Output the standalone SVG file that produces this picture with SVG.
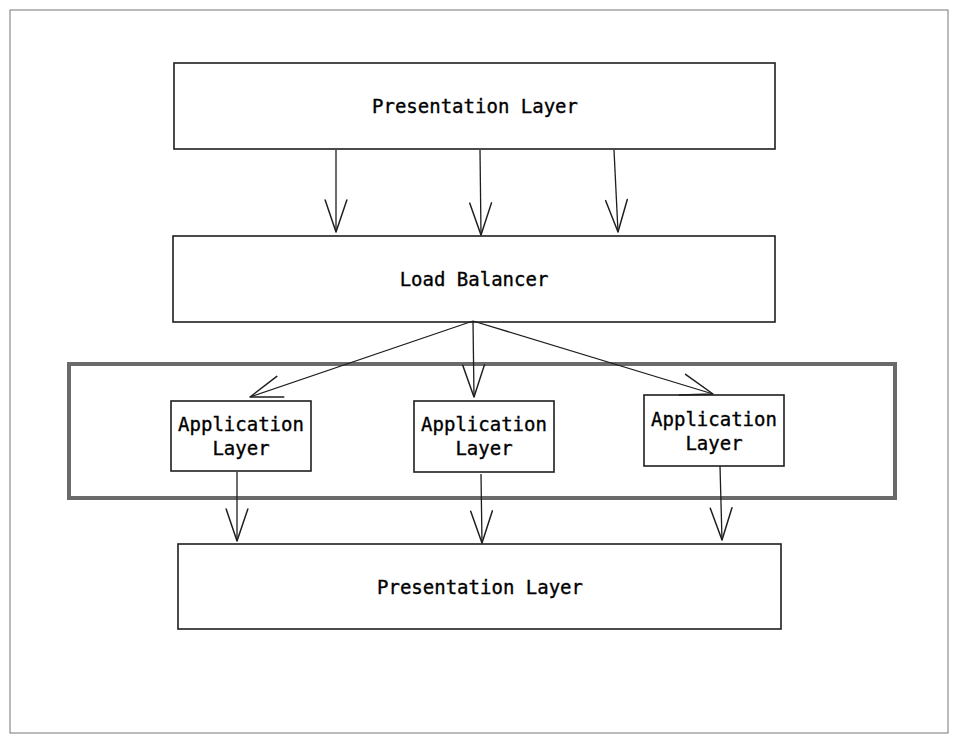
<svg xmlns="http://www.w3.org/2000/svg" width="958" height="742" viewBox="0 0 958 742">
<defs>
<marker id="ah" markerUnits="userSpaceOnUse" markerWidth="40" markerHeight="40" viewBox="-30 -15 35 30" refX="0" refY="0" orient="auto">
<path d="M-28,-9.5 L0,0 L-28,9.5" fill="none" stroke="#1e1e1e" stroke-width="1.3" stroke-linecap="round" stroke-linejoin="round"/>
</marker>
<style>
.box{fill:#fff;stroke:#1e1e1e;stroke-width:1.6}
.lbl{font-family:"DejaVu Sans Mono","Liberation Mono",monospace;font-size:19px;fill:#000;stroke:#000;stroke-width:0.35;text-anchor:middle;dominant-baseline:central}
.con{fill:none;stroke:#1e1e1e;stroke-width:1.3;marker-end:url(#ah)}
</style>
</defs>
<rect x="0" y="0" width="958" height="742" fill="#fff"/>
<rect x="10" y="10" width="938" height="723" fill="none" stroke="#777" stroke-width="1"/>
<g id="group-app">
<rect x="69" y="364" width="826" height="134" fill="none" stroke="#6a6a6a" stroke-width="4"/>
</g>
<g id="presentation-top">
<rect class="box" x="174" y="63" width="601" height="86"/>
<text class="lbl" x="475" y="106">Presentation Layer</text>
</g>
<g id="load-balancer">
<rect class="box" x="173" y="236" width="602" height="86"/>
<text class="lbl" x="474" y="279">Load Balancer</text>
</g>
<g id="app1">
<rect class="box" x="171" y="401" width="140" height="70"/>
<text class="lbl" x="241" y="424">Application</text>
<text class="lbl" x="241" y="448">Layer</text>
</g>
<g id="app2">
<rect class="box" x="414" y="401" width="140" height="71"/>
<text class="lbl" x="484" y="424">Application</text>
<text class="lbl" x="484" y="448">Layer</text>
</g>
<g id="app3">
<rect class="box" x="644" y="395" width="140" height="71"/>
<text class="lbl" x="714" y="419">Application</text>
<text class="lbl" x="714" y="443">Layer</text>
</g>
<g id="presentation-bottom">
<rect class="box" x="178" y="544" width="603" height="85"/>
<text class="lbl" x="480" y="587">Presentation Layer</text>
</g>
<g id="connectors">
<path class="con" d="M336,150 L336,232"/>
<path class="con" d="M480,150 L481,235"/>
<path class="con" d="M614,150 L618,232"/>
<path class="con" d="M473,321 L250,397"/>
<path class="con" d="M473,321 L474,397"/>
<path class="con" d="M473,321 L713,394"/>
<path class="con" d="M237,472 L237,541"/>
<path class="con" d="M481,474 L482,543"/>
<path class="con" d="M720,466 L722,540"/>
</g>
</svg>
